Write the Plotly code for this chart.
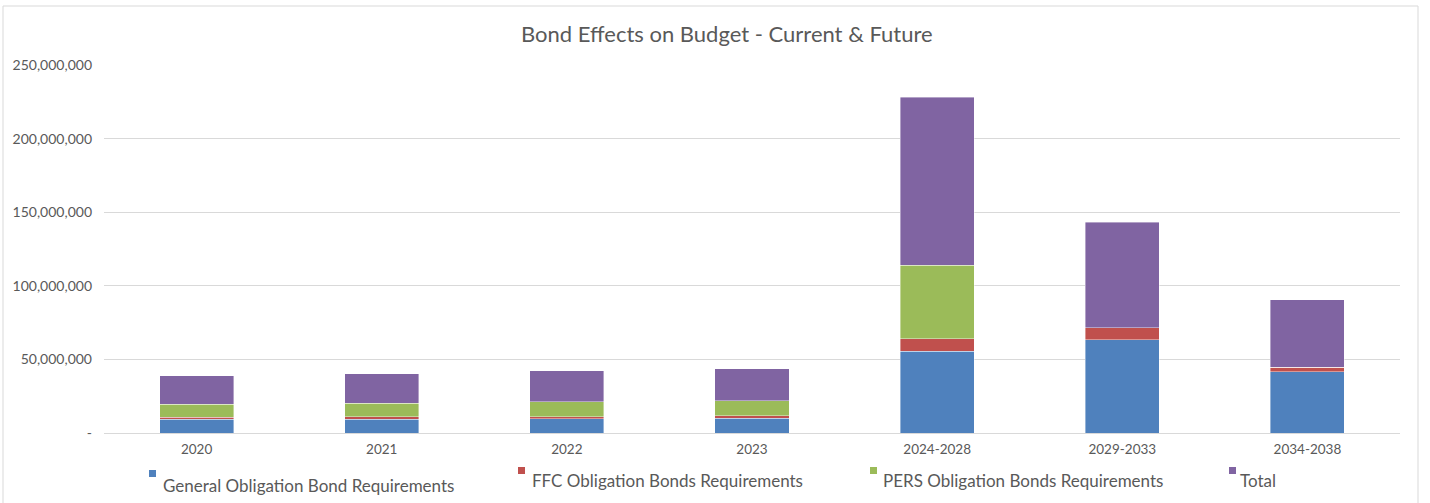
import plotly.graph_objects as go

# Budget periods and bond requirement series (US dollars)
periods = ["2020", "2021", "2022", "2023", "2024-2028", "2029-2033", "2034-2038"]
general_obligation = [9_300_000, 9_300_000, 9_700_000, 10_000_000, 55_700_000, 63_200_000, 41_700_000]
ffc_obligation = [1_400_000, 1_800_000, 1_400_000, 1_750_000, 8_400_000, 8_400_000, 3_000_000]
pers_obligation = [8_800_000, 9_100_000, 10_000_000, 10_000_000, 50_000_000, 0, 0]
total = [19_500_000, 20_200_000, 21_100_000, 21_750_000, 114_100_000, 71_600_000, 45_700_000]

series_names = [
    "General Obligation Bond Requirements",
    "FFC Obligation Bonds Requirements",
    "PERS Obligation Bonds Requirements",
    "Total",
]
series_values = [general_obligation, ffc_obligation, pers_obligation, total]
series_colors = ["#4F81BD", "#C0504D", "#9BBB59", "#8064A2"]

y_ticks = [0, 50_000_000, 100_000_000, 150_000_000, 200_000_000, 250_000_000]
y_tick_text = ["-" if v == 0 else f"{v:,}" for v in y_ticks]

FONT = "Lato"
TEXT_COLOR = "#595959"
W, H = 1430, 503
M_L, M_R, M_T, M_B = 104, 30, 65, 70
PW, PH = W - M_L - M_R, H - M_T - M_B


def px_x(x):
    return (x - M_L) / PW


def px_y(y):
    return (H - M_B - y) / PH


fig = go.Figure()
for name, vals, color in zip(series_names, series_values, series_colors):
    fig.add_trace(go.Bar(
        x=periods, y=vals, name=name,
        marker=dict(color=color, line=dict(color="rgba(255,255,255,0.5)", width=0.8)),
        showlegend=False,
    ))

shapes = [
    # outer chart frame
    dict(type="rect", xref="paper", yref="paper",
         x0=px_x(3), x1=px_x(1418), y0=px_y(520), y1=px_y(6),
         line=dict(color="#D9D9D9", width=1), fillcolor="rgba(0,0,0,0)", layer="below"),
]
annotations = [
    dict(text="Bond Effects on Budget - Current & Future", xref="paper", yref="paper",
         x=px_x(727), y=px_y(34), xanchor="center", yanchor="middle", showarrow=False,
         font=dict(family=FONT, size=22, color=TEXT_COLOR)),
]

# legend entries: small square swatch sitting above-left of each label
legend_items = [
    (149, 470, 161, 485),
    (518, 467, 530, 481),
    (870, 467, 881, 481),
    (1229, 467, 1238, 480),
]
for (sx, sy, tx, ty), name, color in zip(legend_items, series_names, series_colors):
    shapes.append(dict(type="rect", xref="paper", yref="paper",
                       x0=px_x(sx), x1=px_x(sx + 7), y0=px_y(sy + 7), y1=px_y(sy),
                       line=dict(width=0), fillcolor=color))
    annotations.append(dict(text=name, xref="paper", yref="paper",
                            x=px_x(tx), y=px_y(ty), xanchor="left", yanchor="middle",
                            showarrow=False,
                            font=dict(family=FONT, size=17, color=TEXT_COLOR)))

fig.update_layout(
    width=W, height=H,
    margin=dict(l=M_L, r=M_R, t=M_T, b=M_B, autoexpand=False),
    barmode="stack", bargap=0.6,
    paper_bgcolor="white", plot_bgcolor="white",
    font=dict(family=FONT, color=TEXT_COLOR),
    shapes=shapes, annotations=annotations,
    xaxis=dict(showgrid=False, showline=True, linecolor="#D9D9D9", linewidth=1,
               ticks="", tickfont=dict(size=13.5, color=TEXT_COLOR), ticklabelstandoff=4),
    yaxis=dict(range=[0, 250_000_000], tickvals=y_ticks, ticktext=y_tick_text,
               showgrid=True, gridcolor="#D9D9D9", gridwidth=1, zeroline=False,
               showline=False, ticks="", tickfont=dict(size=14, color=TEXT_COLOR),
               ticklabelstandoff=11),
)

fig.write_html("out.html")
